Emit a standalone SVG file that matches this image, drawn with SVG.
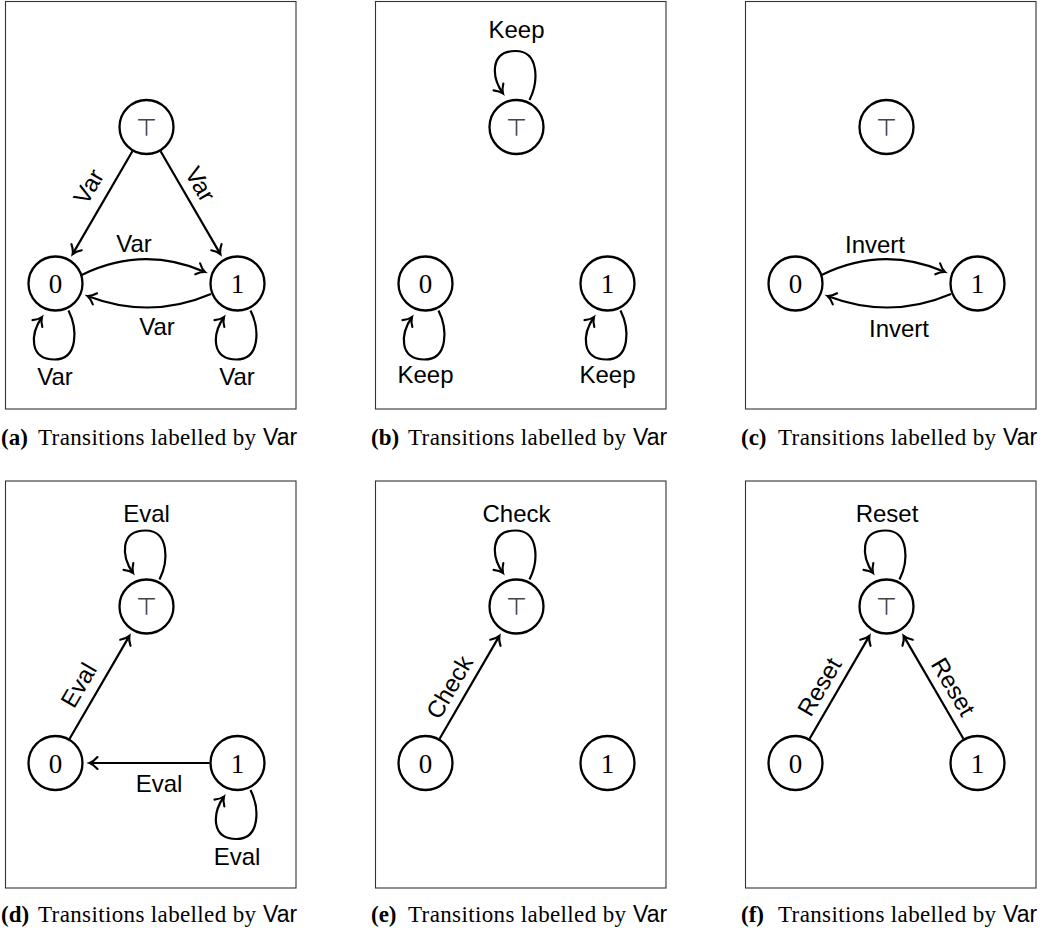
<svg xmlns="http://www.w3.org/2000/svg" width="1047" height="933" viewBox="0 0 1047 933">
<style>
.frame{fill:none;stroke:#333;stroke-width:1.1}
.node circle{fill:#fff;stroke:#000;stroke-width:2.3}
.num{font-family:"Liberation Serif",serif;font-size:27px;text-anchor:middle;fill:#000}
.top{font-family:"DejaVu Sans",sans-serif;font-size:24px;text-anchor:middle;fill:#444}
.edge{fill:none;stroke:#000;stroke-width:2.2;marker-end:url(#arr)}
.lbl{font-family:"Liberation Sans",Arial,sans-serif;font-size:24px;text-anchor:middle;fill:#000}
.cap-b{font-family:"Liberation Serif",serif;font-size:23px;font-weight:bold;fill:#000}
.cap{font-family:"Liberation Serif",serif;font-size:23px;fill:#000}
.cap-s{font-family:"Liberation Sans",Arial,sans-serif;font-size:23px;fill:#000}
</style>
<defs>
<marker id="arr" markerUnits="userSpaceOnUse" markerWidth="16" markerHeight="16" viewBox="-11 -8 13 16" refX="0" refY="0" orient="auto">
<path d="M -8,-6 C -5,-2.5 -2,-0.7 0,0 C -2,0.7 -5,2.5 -8,6" fill="none" stroke="#000" stroke-width="2.1" stroke-linecap="round"/>
</marker>
</defs>

<g id="frames">
<rect class="frame" x="5.5" y="1.5" width="290.5" height="407.5"/>
<rect class="frame" x="375.5" y="1.5" width="290.5" height="407.5"/>
<rect class="frame" x="745.5" y="1.5" width="290.5" height="407.5"/>
<rect class="frame" x="5.5" y="481" width="290.5" height="407"/>
<rect class="frame" x="375.5" y="481" width="290.5" height="407"/>
<rect class="frame" x="745.5" y="481" width="290.5" height="407"/>
</g>

<g id="connectors">
<!-- (a) -->
<path class="edge" d="M 132.4,151.2 L 72.6,254.1"/>
<path class="edge" d="M 160.6,151.2 L 220.4,254.1"/>
<path class="edge" d="M 81.7,275 Q 143,245 205,272"/>
<path class="edge" d="M 211,294 Q 150,320 87.5,296"/>
<path class="edge" transform="translate(55.5,283.5)" d="M 13,27 C 22,45 23,76 -1,76 C -27,76 -25,50 -13.5,33.5"/>
<path class="edge" transform="translate(237.5,283.5)" d="M 13,27 C 22,45 23,76 -1,76 C -27,76 -25,50 -13.5,33.5"/>
<!-- (b) -->
<path class="edge" transform="translate(516.5,127)" d="M 13,-27 C 22,-45 23,-76 -1,-76 C -27,-76 -25,-50 -13.5,-33.5"/>
<path class="edge" transform="translate(425.5,283.5)" d="M 13,27 C 22,45 23,76 -1,76 C -27,76 -25,50 -13.5,33.5"/>
<path class="edge" transform="translate(607.5,283.5)" d="M 13,27 C 22,45 23,76 -1,76 C -27,76 -25,50 -13.5,33.5"/>
<!-- (c) -->
<path class="edge" d="M 821.7,275 Q 883,245 945,272"/>
<path class="edge" d="M 951,294 Q 890,320 827.5,296"/>
<!-- (d) -->
<path class="edge" d="M 69.6,738.8 L 129.4,635.9"/>
<path class="edge" d="M 209.5,763 L 89.5,763"/>
<path class="edge" transform="translate(146.5,606.5)" d="M 13,-27 C 22,-45 23,-76 -1,-76 C -27,-76 -25,-50 -13.5,-33.5"/>
<path class="edge" transform="translate(237.5,763)" d="M 13,27 C 22,45 23,76 -1,76 C -27,76 -25,50 -13.5,33.5"/>
<!-- (e) -->
<path class="edge" d="M 439.6,738.8 L 499.4,635.9"/>
<path class="edge" transform="translate(516.5,606.5)" d="M 13,-27 C 22,-45 23,-76 -1,-76 C -27,-76 -25,-50 -13.5,-33.5"/>
<!-- (f) -->
<path class="edge" d="M 809.6,738.8 L 869.4,635.9"/>
<path class="edge" d="M 963.4,738.8 L 903.6,635.9"/>
<path class="edge" transform="translate(886.5,606.5)" d="M 13,-27 C 22,-45 23,-76 -1,-76 C -27,-76 -25,-50 -13.5,-33.5"/>
</g>

<g id="edge-labels">
<text class="lbl" transform="translate(88.5,186.5) rotate(-59.7)" y="8.5">Var</text>
<text class="lbl" transform="translate(200.5,184) rotate(59.7)" y="8.5">Var</text>
<text class="lbl" x="134" y="252">Var</text>
<text class="lbl" x="157" y="335">Var</text>
<text class="lbl" x="55" y="385">Var</text>
<text class="lbl" x="237" y="385">Var</text>

<text class="lbl" x="516.5" y="38">Keep</text>
<text class="lbl" x="425.5" y="383">Keep</text>
<text class="lbl" x="607.5" y="383">Keep</text>

<text class="lbl" x="875" y="252.5">Invert</text>
<text class="lbl" x="899" y="336.5">Invert</text>

<text class="lbl" x="146.5" y="521.5">Eval</text>
<text class="lbl" transform="translate(78.5,685) rotate(-59.7)" y="8.5">Eval</text>
<text class="lbl" x="159" y="791.5">Eval</text>
<text class="lbl" x="237" y="865">Eval</text>

<text class="lbl" x="516.5" y="521.5">Check</text>
<text class="lbl" transform="translate(449.2,687) rotate(-59.7)" y="8.5">Check</text>

<text class="lbl" x="887" y="521.5">Reset</text>
<text class="lbl" transform="translate(819.2,686.7) rotate(-59.7)" y="8.5">Reset</text>
<text class="lbl" transform="translate(953.5,686.7) rotate(59.7)" y="8.5">Reset</text>
</g>

<!-- nodes (a) -->
<g id="a-top" class="node"><circle cx="146.5" cy="127" r="27"/><text class="top" x="146.5" y="135.5">⊤</text></g>
<g id="a-0" class="node"><circle cx="55.5" cy="283.5" r="27"/><text class="num" x="55.5" y="293">0</text></g>
<g id="a-1" class="node"><circle cx="237.5" cy="283.5" r="27"/><text class="num" x="237.5" y="293">1</text></g>
<!-- nodes (b) -->
<g id="b-top" class="node"><circle cx="516.5" cy="127" r="27"/><text class="top" x="516.5" y="135.5">⊤</text></g>
<g id="b-0" class="node"><circle cx="425.5" cy="283.5" r="27"/><text class="num" x="425.5" y="293">0</text></g>
<g id="b-1" class="node"><circle cx="607.5" cy="283.5" r="27"/><text class="num" x="607.5" y="293">1</text></g>
<!-- nodes (c) -->
<g id="c-top" class="node"><circle cx="886.5" cy="127" r="27"/><text class="top" x="886.5" y="135.5">⊤</text></g>
<g id="c-0" class="node"><circle cx="795.5" cy="283.5" r="27"/><text class="num" x="795.5" y="293">0</text></g>
<g id="c-1" class="node"><circle cx="977.5" cy="283.5" r="27"/><text class="num" x="977.5" y="293">1</text></g>
<!-- nodes (d) -->
<g id="d-top" class="node"><circle cx="146.5" cy="606.5" r="27"/><text class="top" x="146.5" y="615">⊤</text></g>
<g id="d-0" class="node"><circle cx="55.5" cy="763" r="27"/><text class="num" x="55.5" y="772.5">0</text></g>
<g id="d-1" class="node"><circle cx="237.5" cy="763" r="27"/><text class="num" x="237.5" y="772.5">1</text></g>
<!-- nodes (e) -->
<g id="e-top" class="node"><circle cx="516.5" cy="606.5" r="27"/><text class="top" x="516.5" y="615">⊤</text></g>
<g id="e-0" class="node"><circle cx="425.5" cy="763" r="27"/><text class="num" x="425.5" y="772.5">0</text></g>
<g id="e-1" class="node"><circle cx="607.5" cy="763" r="27"/><text class="num" x="607.5" y="772.5">1</text></g>
<!-- nodes (f) -->
<g id="f-top" class="node"><circle cx="886.5" cy="606.5" r="27"/><text class="top" x="886.5" y="615">⊤</text></g>
<g id="f-0" class="node"><circle cx="795.5" cy="763" r="27"/><text class="num" x="795.5" y="772.5">0</text></g>
<g id="f-1" class="node"><circle cx="977.5" cy="763" r="27"/><text class="num" x="977.5" y="772.5">1</text></g>

<g id="captions">
<text class="cap-b" x="1" y="445">(a)</text><text class="cap" x="38" y="445" textLength="218" lengthAdjust="spacing">Transitions labelled by</text><text class="cap-s" x="263" y="445">Var</text>
<text class="cap-b" x="371" y="445">(b)</text><text class="cap" x="408" y="445" textLength="218" lengthAdjust="spacing">Transitions labelled by</text><text class="cap-s" x="633" y="445">Var</text>
<text class="cap-b" x="741" y="445">(c)</text><text class="cap" x="778" y="445" textLength="218" lengthAdjust="spacing">Transitions labelled by</text><text class="cap-s" x="1003" y="445">Var</text>
<text class="cap-b" x="1" y="922">(d)</text><text class="cap" x="38" y="922" textLength="218" lengthAdjust="spacing">Transitions labelled by</text><text class="cap-s" x="263" y="922">Var</text>
<text class="cap-b" x="371" y="922">(e)</text><text class="cap" x="408" y="922" textLength="218" lengthAdjust="spacing">Transitions labelled by</text><text class="cap-s" x="633" y="922">Var</text>
<text class="cap-b" x="741" y="922">(f)</text><text class="cap" x="778" y="922" textLength="218" lengthAdjust="spacing">Transitions labelled by</text><text class="cap-s" x="1003" y="922">Var</text>
</g>
</svg>
